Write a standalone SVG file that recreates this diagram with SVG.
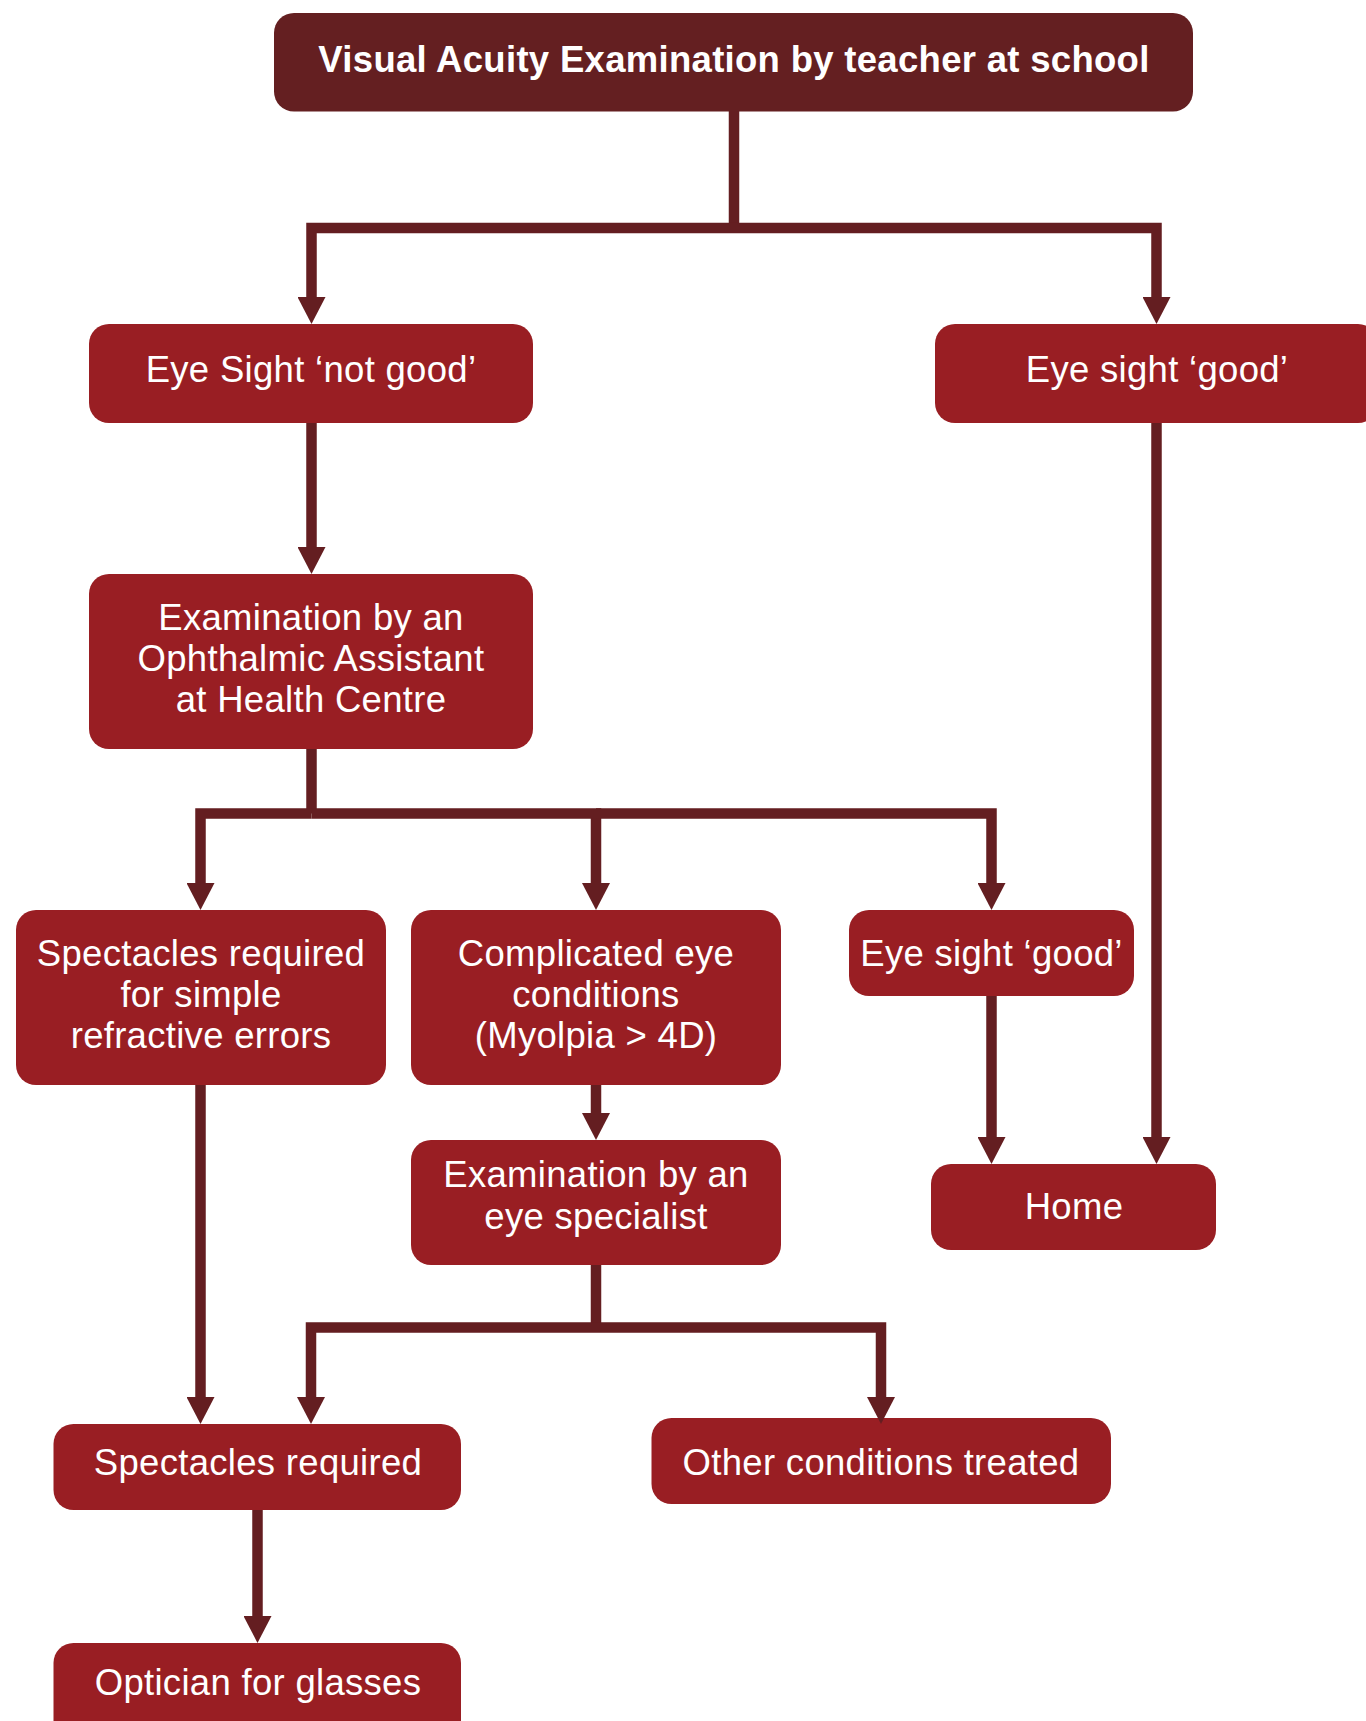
<svg xmlns="http://www.w3.org/2000/svg" width="1366" height="1721" viewBox="0 0 1366 1721">
<style>
.box{fill:#991E23}
.top{fill:#641F21}
.t{font-family:"Liberation Sans",Arial,Helvetica,sans-serif;font-size:36.5px;letter-spacing:0.3px;fill:#ffffff;text-anchor:middle}
.b{font-weight:bold}
.c{fill:none;stroke:#641E21;stroke-width:10.5;stroke-linecap:butt;stroke-linejoin:miter}
</style>
<defs>
<marker id="ah" viewBox="0 0 27 28" refX="0" refY="14" markerWidth="27" markerHeight="28" markerUnits="userSpaceOnUse" orient="auto">
<path d="M0,0 L27,14 L0,28 z" fill="#641E21"/>
</marker>
</defs>
<rect width="1366" height="1721" fill="#ffffff"/>

<g id="n-top"><rect class="top" x="274" y="13" width="919" height="98.5" rx="20"/><text class="t b" x="734" y="71.5">Visual Acuity Examination by teacher at school</text></g>
<g id="n-notgood"><rect class="box" x="89" y="324" width="444" height="99" rx="20"/><text class="t" x="311" y="381.5">Eye Sight ‘not good’</text></g>
<g id="n-good1"><rect class="box" x="935" y="324" width="443" height="99" rx="20"/><text class="t" x="1157" y="381.5">Eye sight ‘good’</text></g>
<g id="n-oa"><rect class="box" x="89" y="574" width="444" height="175" rx="20"/>
<text class="t" x="311" y="630">Examination by an</text>
<text class="t" x="311" y="671">Ophthalmic Assistant</text>
<text class="t" x="311" y="712">at Health Centre</text></g>
<g id="n-simple"><rect class="box" x="16" y="910" width="370" height="175" rx="20"/>
<text class="t" x="201" y="965.5">Spectacles required</text>
<text class="t" x="201" y="1006.5">for simple</text>
<text class="t" x="201" y="1048">refractive errors</text></g>
<g id="n-complicated"><rect class="box" x="411" y="910" width="370" height="175" rx="20"/>
<text class="t" x="596" y="965.5">Complicated eye</text>
<text class="t" x="596" y="1006.5">conditions</text>
<text class="t" x="596" y="1048">(Myolpia &gt; 4D)</text></g>
<g id="n-good2"><rect class="box" x="849" y="910" width="285" height="86" rx="20"/><text class="t" x="991.5" y="965.5">Eye sight ‘good’</text></g>
<g id="n-specialist"><rect class="box" x="411" y="1140" width="370" height="125" rx="20"/>
<text class="t" x="596" y="1187">Examination by an</text>
<text class="t" x="596" y="1229">eye specialist</text></g>
<g id="n-home"><rect class="box" x="931" y="1164" width="285" height="86" rx="20"/><text class="t" x="1074" y="1219">Home</text></g>
<g id="n-spectacles"><rect class="box" x="53.5" y="1424" width="407.5" height="86" rx="20"/><text class="t" x="258" y="1475">Spectacles required</text></g>
<g id="n-other"><rect class="box" x="651.5" y="1418" width="459.5" height="86" rx="20"/><text class="t" x="881" y="1475">Other conditions treated</text></g>
<g id="n-optician"><rect class="box" x="53.5" y="1643" width="407.5" height="100" rx="20"/><text class="t" x="258" y="1695">Optician for glasses</text></g>

<g id="connectors">
<path class="c" d="M734,111 V228"/>
<path class="c" d="M734,228 H311.5 V297" marker-end="url(#ah)"/>
<path class="c" d="M734,228 H1156.5 V297" marker-end="url(#ah)"/>
<path class="c" d="M311.5,423 V547" marker-end="url(#ah)"/>
<path class="c" d="M311.5,749 V813.5"/>
<path class="c" d="M311.5,813.5 H200.5 V883" marker-end="url(#ah)"/>
<path class="c" d="M311.5,813.5 H596 V883" marker-end="url(#ah)"/>
<path class="c" d="M596,813.5 H991.5 V883" marker-end="url(#ah)"/>
<path class="c" d="M1156.5,423 V1137" marker-end="url(#ah)"/>
<path class="c" d="M991.5,996 V1137" marker-end="url(#ah)"/>
<path class="c" d="M596,1085 V1113" marker-end="url(#ah)"/>
<path class="c" d="M200.5,1085 V1397" marker-end="url(#ah)"/>
<path class="c" d="M596,1265 V1327.5"/>
<path class="c" d="M596,1327.5 H311 V1397" marker-end="url(#ah)"/>
<path class="c" d="M596,1327.5 H881 V1397" marker-end="url(#ah)"/>
<path class="c" d="M257.5,1510 V1616" marker-end="url(#ah)"/>
</g>
</svg>
